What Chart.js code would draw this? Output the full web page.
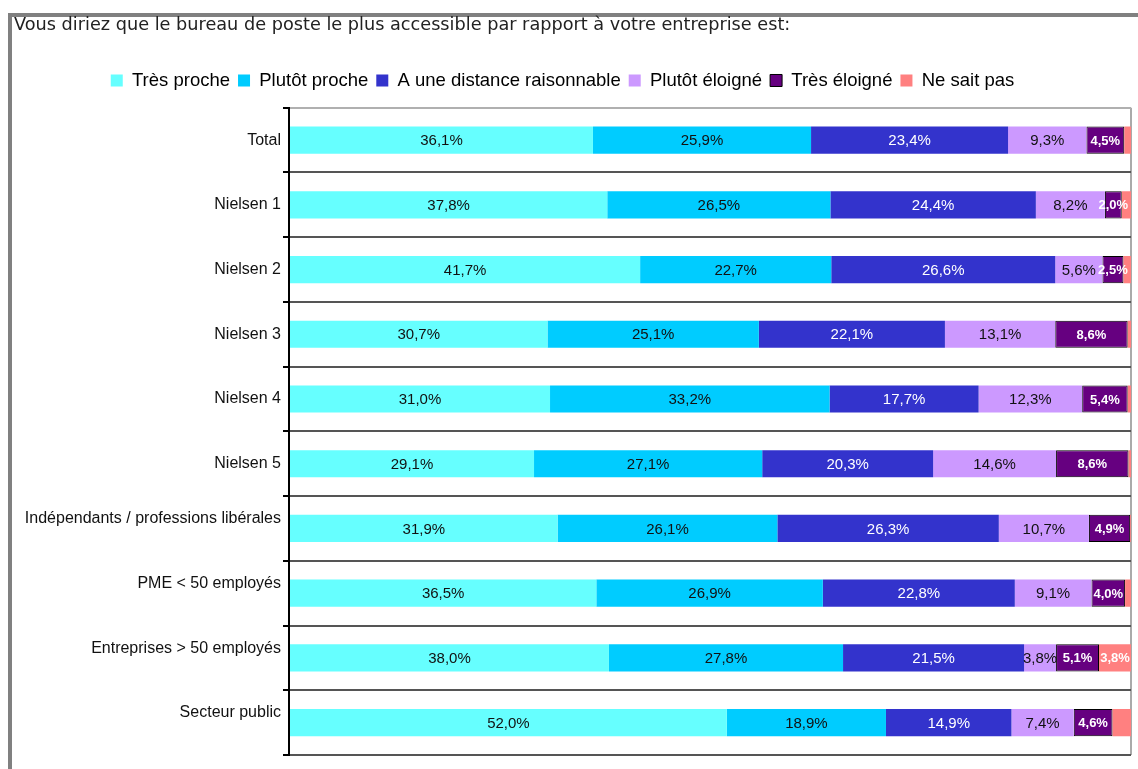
<!DOCTYPE html>
<html>
<head>
<meta charset="utf-8">
<script src="https://cdn.jsdelivr.net/npm/chart.js@4/dist/chart.umd.min.js"></script>
<style>
  html, body { margin: 0; padding: 0; background: #fff; }
  body { width: 1138px; height: 769px; position: relative; overflow: hidden; }
  #frame { position: absolute; left: 8px; top: 13px; width: 1200px; height: 800px;
           border-left: 4px solid #808080; border-top: 4px solid #808080; box-sizing: border-box; }
  canvas { position: absolute; left: 0; top: 0; }
</style>
</head>
<body>
<div id="frame"></div>
<canvas id="c" width="1138" height="769"></canvas>
<script>
const titleText = "Vous diriez que le bureau de poste le plus accessible par rapport à votre entreprise est:";
const categories = ["Total", "Nielsen 1", "Nielsen 2", "Nielsen 3", "Nielsen 4", "Nielsen 5",
  "Indépendants / professions libérales", "PME < 50 employés", "Entreprises > 50 employés", "Secteur public"];
const seriesNames = ["Très proche", "Plutôt proche", "A une distance raisonnable", "Plutôt éloigné", "Très éloigné", "Ne sait pas"];
const tresProche      = [36.1, 37.8, 41.7, 30.7, 31.0, 29.1, 31.9, 36.5, 38.0, 52.0];
const plutotProche    = [25.9, 26.5, 22.7, 25.1, 33.2, 27.1, 26.1, 26.9, 27.8, 18.9];
const distanceRaison  = [23.4, 24.4, 26.6, 22.1, 17.7, 20.3, 26.3, 22.8, 21.5, 14.9];
const plutotEloigne   = [9.3, 8.2, 5.6, 13.1, 12.3, 14.6, 10.7, 9.1, 3.8, 7.4];
const tresEloigne     = [4.5, 2.0, 2.5, 8.6, 5.4, 8.6, 4.9, 4.0, 5.1, 4.6];
const neSaitPas       = [0.8, 1.1, 0.9, 0.4, 0.4, 0.3, 0.1, 0.7, 3.8, 2.2];

const seriesValues = [tresProche, plutotProche, distanceRaison, plutotEloigne, tresEloigne, neSaitPas];
const colors = ['#66FFFF', '#00CCFF', '#3333CC', '#CC99FF', '#660080', '#FF8080'];
const borders = [0, 0, 0, 0, 1, 0];
const FONT = "'Liberation Sans', Arial, sans-serif";
const labelStyles = [
  {min: 0, color: '#111', font: "15px " + FONT},
  {min: 0, color: '#111', font: "15px " + FONT},
  {min: 0, color: '#fff', font: "15px " + FONT},
  {min: 0, color: '#111', font: "15px " + FONT},
  {min: 0, color: '#fff', font: "bold 13px " + FONT},
  {min: 3, color: '#fff', font: "bold 13px " + FONT}
];
const fmt = v => v.toFixed(1).replace('.', ',') + '%';

const segLabels = {
  id: 'segLabels',
  afterDatasetsDraw(chart) {
    const ctx = chart.ctx;
    chart.data.datasets.forEach((ds, i) => {
      const meta = chart.getDatasetMeta(i);
      const st = labelStyles[i];
      meta.data.forEach((bar, j) => {
        const v = ds.data[j];
        if (v < st.min) return;
        const p = bar.getProps(['x', 'base', 'y'], true);
        ctx.save();
        ctx.font = st.font;
        ctx.fillStyle = st.color;
        ctx.textAlign = 'center';
        ctx.textBaseline = 'middle';
        ctx.fillText(fmt(v), (p.x + p.base) / 2, p.y + 1);
        ctx.restore();
      });
    });
  }
};

const legendSpacer = {
  id: 'legendSpacer',
  beforeLayout(chart) {
    const l = chart.legend;
    if (l && !l._spaced) {
      const orig = l.fit;
      l.fit = function () { orig.call(this); this.height += 8; };
      l._spaced = true;
    }
  },
  afterLayout(chart) {
    const l = chart.legend;
    if (l) { l.right -= 20; }
  }
};

Chart.defaults.color = '#000';
Chart.defaults.font.family = FONT;

new Chart(document.getElementById('c'), {
  type: 'bar',
  data: {
    labels: categories,
    datasets: seriesValues.map((vals, i) => ({
      label: seriesNames[i],
      data: vals,
      backgroundColor: colors[i],
      borderColor: '#000',
      borderWidth: borders[i],
      borderSkipped: false,
      barPercentage: 0.42,
      categoryPercentage: 1
    }))
  },
  options: {
    indexAxis: 'y',
    responsive: false,
    devicePixelRatio: 1,
    animation: false,
    layout: { padding: { left: 14, right: 7, top: 15, bottom: 14 } },
    plugins: {
      title: {
        display: true,
        text: titleText,
        align: 'start',
        color: '#222',
        font: { family: "'DejaVu Sans', Verdana, sans-serif", size: 17.7, weight: 'normal', lineHeight: 1.2 },
        padding: { top: 0, bottom: 27 }
      },
      legend: {
        display: true,
        position: 'top',
        labels: {
          boxWidth: 12,
          boxHeight: 12,
          padding: 8,
          color: '#000',
          font: { size: 18.5, family: FONT }
        }
      },
      tooltip: { enabled: false }
    },
    scales: {
      x: {
        stacked: true,
        min: 0,
        max: 100,
        position: 'bottom',
        ticks: { display: false, stepSize: 100 },
        grid: {
          drawTicks: false,
          lineWidth: 2,
          color: ctx => (ctx.tick && ctx.tick.value === 100) ? '#aaa' : 'rgba(0,0,0,0)'
        },
        border: { display: false }
      },
      y: {
        stacked: true,
        afterFit(scale) { scale.width = 275; },
        ticks: {
          color: '#111',
          padding: 2,
          font: { size: 16, family: FONT },
          callback(value, index) {
            const lbl = this.getLabelForValue(value);
            return index >= 6 ? [lbl, ''] : lbl;
          }
        },
        grid: {
          offset: true,
          lineWidth: 2,
          tickLength: 6,
          tickColor: '#000',
          color: ctx => ctx.index === 0 ? '#b0b0b0' : (ctx.index === categories.length ? '#999' : '#555')
        },
        border: { display: true, color: '#000', width: 2 }
      }
    }
  },
  plugins: [segLabels, legendSpacer]
});
</script>
</body>
</html>
